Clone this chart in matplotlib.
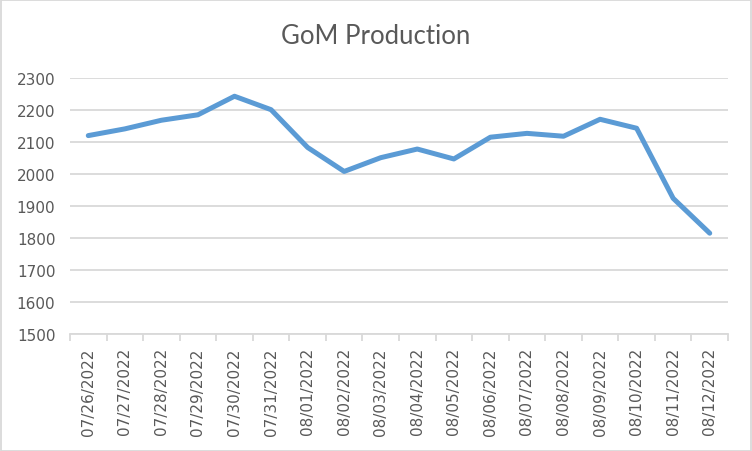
import matplotlib
matplotlib.use("Agg")
import matplotlib.pyplot as plt
from matplotlib.patches import Rectangle

dates = ["07/26/2022", "07/27/2022", "07/28/2022", "07/29/2022", "07/30/2022",
         "07/31/2022", "08/01/2022", "08/02/2022", "08/03/2022", "08/04/2022",
         "08/05/2022", "08/06/2022", "08/07/2022", "08/08/2022", "08/09/2022",
         "08/10/2022", "08/11/2022", "08/12/2022"]
production = [2120, 2141, 2168, 2185, 2243, 2201, 2083, 2008, 2051, 2078,
              2047, 2115, 2127, 2118, 2171, 2143, 1924, 1815]
yticks = [1500, 1600, 1700, 1800, 1900, 2000, 2100, 2200, 2300]

text_color = "#595959"
grid_color = "#D9D9D9"
line_color = "#5B9BD5"

fig = plt.figure(figsize=(7.52, 4.52), dpi=100)
ax = fig.add_axes([70/752, 1 - 335/452, 658/752, 256/452])

x = list(range(len(dates)))
ax.plot(x, production, color=line_color, linewidth=3.6, solid_capstyle="round",
        solid_joinstyle="round", zorder=3)

ax.set_xlim(-0.5, len(dates) - 0.5)
ax.set_ylim(1500, 2300)
ax.set_yticks(yticks)
ax.set_yticklabels([str(v) for v in yticks])
ax.set_xticks(x)
ax.set_xticklabels(dates, rotation=90)
ax.set_xticks([i - 0.5 for i in range(len(dates) + 1)], minor=True)

ax.grid(axis="y", color=grid_color, linewidth=1.3, zorder=0)
for s in ["top", "right", "left"]:
    ax.spines[s].set_visible(False)
ax.spines["bottom"].set_color(grid_color)
ax.spines["bottom"].set_linewidth(1.3)

ax.tick_params(axis="y", length=0, pad=10.5, labelsize=11, labelcolor=text_color)
ax.tick_params(axis="x", which="major", length=0, pad=9.5, labelsize=11, labelcolor=text_color)
ax.tick_params(axis="x", which="minor", length=5, width=1.3, color=grid_color)

fig.text(376/752, 1 - 37/452, "GoM Production", ha="center", va="center",
         fontsize=18.5, color=text_color, family=["Lato", "DejaVu Sans"])

fig.patches.append(Rectangle((0.5/752, 0.5/452), 1 - 1.5/752, 1 - 1.5/452,
                             transform=fig.transFigure, fill=False,
                             edgecolor=grid_color, linewidth=1.3))

fig.savefig("out.png", dpi=100, facecolor="white")
